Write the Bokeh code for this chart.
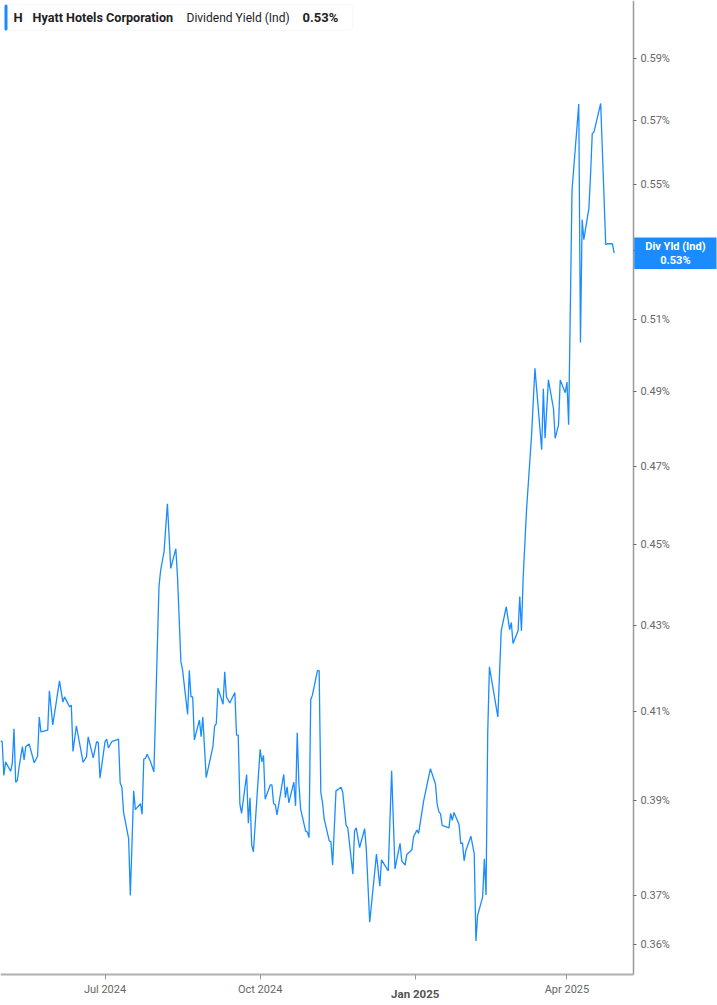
import pandas as pd
from bokeh.plotting import figure
from bokeh.models import (Range1d, FixedTicker, PrintfTickFormatter, CustomJSTickFormatter,
                          Label, BoxAnnotation, ColumnDataSource, DatetimeAxis, LogAxis)
from bokeh.embed import file_html
from bokeh.resources import INLINE

# ---------------- data ----------------
dates = [
    "2024-04-30", "2024-05-01", "2024-05-02", "2024-05-03", "2024-05-06", "2024-05-07", "2024-05-08",
    "2024-05-09", "2024-05-10", "2024-05-11", "2024-05-13", "2024-05-14", "2024-05-15", "2024-05-17",
    "2024-05-20", "2024-05-22", "2024-05-23", "2024-05-24", "2024-05-28", "2024-05-29", "2024-05-31",
    "2024-06-04", "2024-06-06", "2024-06-07", "2024-06-10", "2024-06-11", "2024-06-12", "2024-06-14",
    "2024-06-18", "2024-06-20", "2024-06-21", "2024-06-24", "2024-06-26", "2024-06-27", "2024-06-28",
    "2024-07-01", "2024-07-02", "2024-07-03", "2024-07-05", "2024-07-09", "2024-07-10", "2024-07-11",
    "2024-07-12", "2024-07-15", "2024-07-16", "2024-07-18", "2024-07-19", "2024-07-22", "2024-07-23",
    "2024-07-24", "2024-07-25", "2024-07-26", "2024-07-28", "2024-07-30", "2024-08-02", "2024-08-03",
    "2024-08-05", "2024-08-07", "2024-08-09", "2024-08-12", "2024-08-13", "2024-08-15", "2024-08-16",
    "2024-08-19", "2024-08-20", "2024-08-21", "2024-08-22", "2024-08-23", "2024-08-26", "2024-08-27",
    "2024-08-28", "2024-08-30", "2024-09-03", "2024-09-04", "2024-09-05", "2024-09-06", "2024-09-09",
    "2024-09-10", "2024-09-11", "2024-09-13", "2024-09-16", "2024-09-17", "2024-09-18", "2024-09-19",
    "2024-09-20", "2024-09-23", "2024-09-24", "2024-09-25", "2024-09-26", "2024-09-27", "2024-10-01",
    "2024-10-02", "2024-10-03", "2024-10-04", "2024-10-07", "2024-10-08", "2024-10-09", "2024-10-10",
    "2024-10-11", "2024-10-15", "2024-10-16", "2024-10-17", "2024-10-18", "2024-10-21", "2024-10-22",
    "2024-10-23", "2024-10-24", "2024-10-25", "2024-10-28", "2024-10-29", "2024-10-30", "2024-10-31",
    "2024-11-01", "2024-11-04", "2024-11-05", "2024-11-06", "2024-11-07", "2024-11-08", "2024-11-11",
    "2024-11-12", "2024-11-13", "2024-11-15", "2024-11-18", "2024-11-19", "2024-11-21", "2024-11-22",
    "2024-11-25", "2024-11-26", "2024-11-27", "2024-11-29", "2024-12-02", "2024-12-03", "2024-12-05",
    "2024-12-09", "2024-12-11", "2024-12-12", "2024-12-16", "2024-12-18", "2024-12-20", "2024-12-23",
    "2024-12-24", "2024-12-26", "2024-12-27", "2024-12-30", "2024-12-31", "2025-01-02", "2025-01-03",
    "2025-01-06", "2025-01-10", "2025-01-13", "2025-01-14", "2025-01-15", "2025-01-16", "2025-01-17",
    "2025-01-21", "2025-01-22", "2025-01-23", "2025-01-24", "2025-01-27", "2025-01-28", "2025-01-29",
    "2025-01-30", "2025-01-31", "2025-02-03", "2025-02-05", "2025-02-06", "2025-02-07", "2025-02-10",
    "2025-02-11", "2025-02-12", "2025-02-13", "2025-02-14", "2025-02-19", "2025-02-21", "2025-02-24",
    "2025-02-26", "2025-02-27", "2025-02-28", "2025-03-03", "2025-03-04", "2025-03-05", "2025-03-06",
    "2025-03-08", "2025-03-11", "2025-03-13", "2025-03-17", "2025-03-18", "2025-03-19", "2025-03-21",
    "2025-03-24", "2025-03-25", "2025-03-27", "2025-03-28", "2025-03-31", "2025-04-01", "2025-04-02",
    "2025-04-04", "2025-04-08", "2025-04-09", "2025-04-10", "2025-04-11", "2025-04-14", "2025-04-15",
    "2025-04-16", "2025-04-17", "2025-04-21", "2025-04-24", "2025-04-25", "2025-04-28", "2025-04-29",
]

div_yield = [
    0.4033, 0.4031, 0.3956, 0.3986, 0.3965, 0.3983, 0.4060,
    0.3941, 0.3945, 0.3974, 0.4020, 0.3990, 0.4020, 0.4026,
    0.3984, 0.3999, 0.4087, 0.4053, 0.4057, 0.4147, 0.4069,
    0.4170, 0.4121, 0.4133, 0.4110, 0.4114, 0.4009, 0.4067,
    0.3985, 0.3997, 0.4042, 0.3995, 0.4031, 0.4029, 0.3950,
    0.4031, 0.4037, 0.4017, 0.4031, 0.4037, 0.3939, 0.3930,
    0.3875, 0.3819, 0.3700, 0.3922, 0.3881, 0.3894, 0.3871,
    0.3992, 0.3994, 0.4003, 0.3986, 0.3964, 0.4395, 0.4436,
    0.4481, 0.4603, 0.4440, 0.4489, 0.4419, 0.4215, 0.4195,
    0.4093, 0.4195, 0.4133, 0.4133, 0.4035, 0.4080, 0.4042,
    0.4087, 0.3951, 0.4020, 0.4066, 0.4072, 0.4153, 0.4116,
    0.4191, 0.4133, 0.4119, 0.4143, 0.4046, 0.4046, 0.3893,
    0.3873, 0.3958, 0.3852, 0.3907, 0.3805, 0.3791, 0.4014,
    0.3986, 0.4000, 0.3904, 0.3935, 0.3935, 0.3894, 0.3892,
    0.3870, 0.3958, 0.3907, 0.3931, 0.3896, 0.3941, 0.3889,
    0.4051, 0.3937, 0.3883, 0.3835, 0.3833, 0.3821, 0.4126,
    0.4137, 0.4194, 0.4194, 0.3919, 0.3896, 0.3861, 0.3814,
    0.3812, 0.3763, 0.3922, 0.3930, 0.3919, 0.3847, 0.3842,
    0.3744, 0.3835, 0.3842, 0.3800, 0.3840, 0.3795, 0.3645,
    0.3786, 0.3719, 0.3774, 0.3751, 0.3966, 0.3755, 0.3809,
    0.3772, 0.3763, 0.3786, 0.3795, 0.3823, 0.3837, 0.3830,
    0.3900, 0.3971, 0.3937, 0.3893, 0.3877, 0.3872, 0.3847,
    0.3842, 0.3873, 0.3858, 0.3875, 0.3849, 0.3808, 0.3810,
    0.3772, 0.3793, 0.3824, 0.3787, 0.3607, 0.3659, 0.3697,
    0.3776, 0.3701, 0.4051, 0.4203, 0.4087, 0.4288, 0.4346,
    0.4291, 0.4308, 0.4258, 0.4288, 0.4371, 0.4288, 0.4415,
    0.4586, 0.4782, 0.4964, 0.4744, 0.4908, 0.4774, 0.4932,
    0.4854, 0.4774, 0.4810, 0.4932, 0.4897, 0.4926, 0.4810,
    0.5482, 0.5752, 0.5036, 0.5393, 0.5333, 0.5427, 0.5531,
    0.5658, 0.5663, 0.5754, 0.5318, 0.5321, 0.5321, 0.5293,
]

x_ticks = ["2024-07-01", "2024-10-01", "2025-01-01", "2025-04-01"]
bold_tick = "2025-01-01"
y_ticks = [0.36, 0.37, 0.39, 0.41, 0.43, 0.45, 0.47, 0.49, 0.51, 0.53, 0.55, 0.57, 0.59]

ticker_symbol = "H"
company = "Hyatt Hotels Corporation"
metric = "Dividend Yield (Ind)"
short_metric = "Div Yld (Ind)"

# ---------------- layout constants ----------------
W, H = 717, 1005
LINE_BLUE = "#1a8cff"
TICK_GREY = "#666666"
FONT = "Roboto"

def ms(t):
    return pd.Timestamp(t).value / 1e6

# visible window of the chart (whole canvas); axes are pinned inside it
x_start, x_end = pd.Timestamp("2024-04-30"), pd.Timestamp("2025-06-29 07:00")
y_low, y_high = 0.34796, 0.6094
y_axis_at = pd.Timestamp("2025-05-10 09:36")   # date where the value axis sits
x_axis_at = 0.35403                              # value where the date axis sits

src = ColumnDataSource(dict(date=pd.to_datetime(dates), yld=div_yield))

p = figure(width=W, height=H, x_axis_type="datetime", y_axis_type="log",
           x_axis_location=None, y_axis_location=None,
           output_backend="svg", toolbar_location=None,
           x_range=Range1d(x_start, x_end), y_range=Range1d(y_low, y_high),
           min_border_left=0, min_border_top=0, min_border_right=0, min_border_bottom=0)
p.outline_line_color = None
p.xgrid.visible = False
p.ygrid.visible = False
p.background_fill_color = "white"
p.border_fill_color = "white"

p.line(x="date", y="yld", source=src, line_color=LINE_BLUE, line_width=1.3)

# value axis (right, log) pinned at y_axis_at
ya = LogAxis(fixed_location=ms(y_axis_at), bounds=(x_axis_at, y_high))
ya.ticker = FixedTicker(ticks=y_ticks)
ya.formatter = PrintfTickFormatter(format="%.2f%%")
ya.axis_line_color = "#9a9a9a"
ya.axis_line_width = 1.5
ya.major_tick_in = 0
ya.major_tick_out = 3
ya.major_tick_line_color = TICK_GREY
ya.minor_tick_line_color = None
ya.major_label_text_font = FONT
ya.major_label_text_font_size = "11px"
ya.major_label_text_color = TICK_GREY
ya.major_label_standoff = 4
p.add_layout(ya, "right")

# date axis pinned at x_axis_at
xa = DatetimeAxis(fixed_location=x_axis_at, bounds=(ms(x_start), ms(y_axis_at)))
xa.ticker = FixedTicker(ticks=[ms(t) for t in x_ticks])
xa.formatter = CustomJSTickFormatter(code="""
const d = new Date(tick);
const m = d.getUTCMonth();
if (m == 0) return "";
const names = ["Jan","Feb","Mar","Apr","May","Jun","Jul","Aug","Sep","Oct","Nov","Dec"];
return names[m] + " " + d.getUTCFullYear();
""")
xa.axis_line_color = "#b0b0b0"
xa.axis_line_width = 2
xa.major_tick_in = 0
xa.major_tick_out = 5
xa.major_tick_line_color = "#999999"
xa.minor_tick_line_color = None
xa.major_label_text_font = FONT
xa.major_label_text_font_size = "11px"
xa.major_label_text_color = TICK_GREY
xa.major_label_standoff = 4
p.add_layout(xa, "below")

# bold year label for January
bt = pd.Timestamp(bold_tick)
p.add_layout(Label(x=ms(bt), y=12, x_units="data", y_units="screen",
                   text=f"{bt.strftime('%b')} {bt.year}", text_font=FONT, text_font_style="bold",
                   text_font_size="11.5px", text_color="#555555", text_align="center",
                   text_baseline="middle"))

# last value tag on the value axis
last = div_yield[-1]
p.add_layout(Label(x=ms(y_axis_at), y=last, x_units="data", y_units="data", x_offset=42,
                   text=f"{short_metric}\n{last:.2f}%", text_font=FONT, text_font_style="bold",
                   text_font_size="11px", text_line_height=1.1, text_color="white",
                   text_align="center", text_baseline="middle",
                   background_fill_color=LINE_BLUE, padding=(11, 2), level="overlay"))

# header box
p.add_layout(BoxAnnotation(left=4, right=352, top=H - 4, bottom=H - 30, left_units="screen",
                           right_units="screen", top_units="screen", bottom_units="screen",
                           fill_color="white", fill_alpha=1.0, line_color="#e3e3e3",
                           line_width=1, border_radius=3, level="overlay"))
p.add_layout(BoxAnnotation(left=4, right=7, top=H - 4, bottom=H - 30, left_units="screen",
                           right_units="screen", top_units="screen", bottom_units="screen",
                           fill_color=LINE_BLUE, fill_alpha=1.0, line_color=None,
                           border_radius=2, level="overlay"))
hy = H - 17
for xpos, txt, style, size in [(13, ticker_symbol, "bold", "13px"), (32, company, "bold", "12.6px"),
                               (186, metric, "normal", "12px"), (302, f"{last:.2f}%", "bold", "13px")]:
    p.add_layout(Label(x=xpos, y=hy, x_units="screen", y_units="screen", text=txt,
                       text_font=FONT, text_font_style=style, text_font_size=size,
                       text_color="#222222", text_baseline="middle", level="overlay"))

open("out.html", "w").write(file_html(p, INLINE))
